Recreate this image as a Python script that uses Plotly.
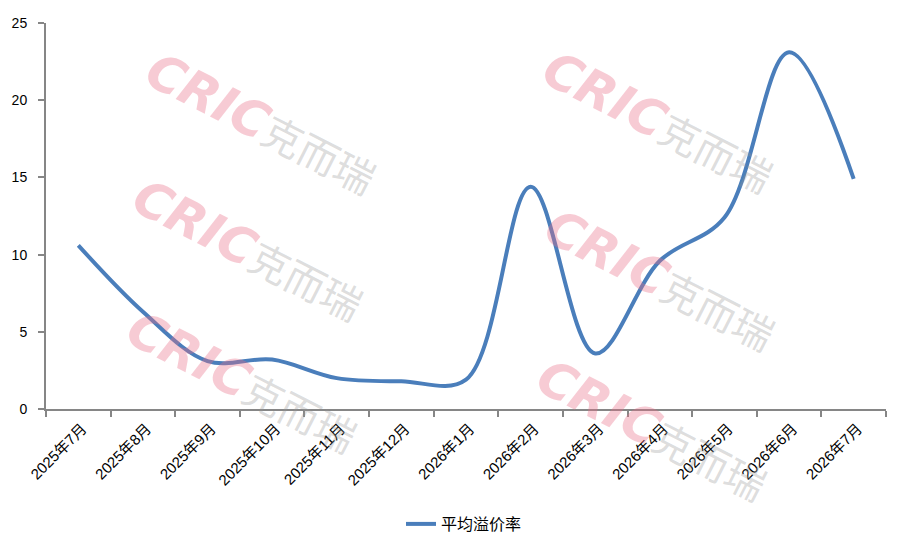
import plotly.graph_objects as go

months = ["2025年7月", "2025年8月", "2025年9月", "2025年10月", "2025年11月", "2025年12月",
          "2026年1月", "2026年2月", "2026年3月", "2026年4月", "2026年5月", "2026年6月", "2026年7月"]
premium = [10.6, 6.3, 3.1, 3.2, 2.0, 1.8, 1.9, 14.4, 3.6, 9.6, 12.4, 23.1, 14.9]
series_name = "平均溢价率"
y_ticks = [0, 5, 10, 15, 20, 25]

# page body has an 8px margin, so the figure is drawn 8px in from the top-left
OFF = 8
W, H = 909 - OFF, 553 - OFF
L, R, T, B = 46 - OFF, 23, 23 - OFF, 144

fig = go.Figure()
fig.add_trace(go.Scatter(
    x=months, y=premium, mode="lines", name=series_name,
    line=dict(color="#4a7ebb", width=4, shape="spline", smoothing=1.0),
))

# watermark logos (pixel centres in the reference picture)
wm_centres = [(262, 124), (248, 250), (242, 382), (658, 122), (660, 280), (652, 430)]
pw, ph = W - L - R, H - T - B
wm_text = ('<span style="color:rgba(232,110,135,0.36)"><b><i>CRIC</i></b></span>'
           '<span style="color:rgba(150,150,150,0.32);font-size:40px">克而瑞</span>')
for cx, cy in wm_centres:
    px, py = cx - OFF, cy - OFF
    fig.add_annotation(
        x=(px - L) / pw, y=(H - B - py) / ph, xref="paper", yref="paper",
        text=wm_text, showarrow=False, textangle=27,
        font=dict(family="DejaVu Sans, Noto Sans CJK SC", size=50),
        xanchor="center", yanchor="middle",
    )

fig.update_layout(
    width=W, height=H,
    margin=dict(l=L, r=R, t=T, b=B, autoexpand=False),
    paper_bgcolor="white", plot_bgcolor="white",
    font=dict(family="Liberation Sans, Noto Sans CJK SC", size=14, color="#000"),
    showlegend=True,
    legend=dict(orientation="h", xref="container", yref="container",
                x=(464 - OFF) / W, xanchor="center", y=(H - (524 - OFF)) / H, yanchor="middle",
                font=dict(size=16, family="Noto Sans CJK SC")),
    xaxis=dict(
        type="category", range=[-0.5, len(months) - 0.5],
        showgrid=False, showline=True, linecolor="#868686", linewidth=2,
        ticks="outside", tickson="boundaries", ticklen=6, tickcolor="#868686", tickwidth=2,
        tickangle=-45, tickfont=dict(size=15, family="Liberation Sans, Noto Sans CJK SC"),
        ticklabelstandoff=3, ticklabelshift=4, zeroline=False, automargin=False,
    ),
    yaxis=dict(
        range=[0, 25], tickvals=y_ticks, showgrid=False, showline=True, linecolor="#868686",
        linewidth=2, ticks="outside", ticklen=6, tickcolor="#868686", tickwidth=2,
        tickfont=dict(size=14), zeroline=False, ticklabelstandoff=8, automargin=False,
    ),
)

fig.write_html("out.html")
